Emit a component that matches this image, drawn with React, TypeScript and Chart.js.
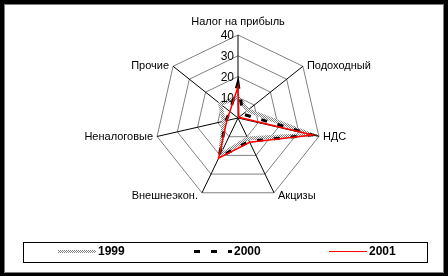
import React, { useEffect, useRef } from "react";
import { Chart, registerables } from "chart.js";

Chart.register(...registerables);

const categories = ["Налог на прибыль", "Подоходный", "НДС", "Акцизы", "Внешнеэкон.", "Неналоговые", "Прочие"];
const seriesNames = ["1999", "2000", "2001"];
const values1999 = [10, 6, 36, 11, 20, 7, 11];
const values2000 = [17, 3, 36.5, 12.5, 21, 6, 5];
const values2001 = [15, 0.5, 37, 13, 21.5, 5.5, 5];
const tickValues = [10, 20, 30, 40];

const FONT = "'Liberation Sans', Arial, sans-serif";

export default function App() {
  const ref = useRef<HTMLCanvasElement | null>(null);

  useEffect(() => {
    const canvas = ref.current!;
    const ctx0 = canvas.getContext("2d")!;
    const pc = document.createElement("canvas");
    pc.width = 2;
    pc.height = 2;
    const pg = pc.getContext("2d")!;
    pg.fillStyle = "#ffffff";
    pg.fillRect(0, 0, 2, 2);
    pg.fillStyle = "#808080";
    pg.fillRect(0, 0, 1, 1);
    pg.fillRect(1, 1, 1, 1);
    const hatch = ctx0.createPattern(pc, "repeat")!;

    const styles = [
      { color: hatch as any, width: 4, dash: [] as number[] },
      { color: "#000000", width: 3, dash: [6, 11] },
      { color: "#ff0000", width: 1.5, dash: [] as number[] },
    ];
    const seriesValues = [values1999, values2000, values2001];

    const overlay = {
      id: "overlay",
      afterDraw(chart: any) {
        const ctx = chart.ctx as CanvasRenderingContext2D;
        const r = chart.scales.r;
        ctx.save();
        // tick labels
        ctx.fillStyle = "#000";
        ctx.font = `12px ${FONT}`;
        ctx.textAlign = "right";
        ctx.textBaseline = "middle";
        tickValues.forEach((v) => {
          const d = r.getDistanceFromCenterForValue(v);
          ctx.fillText(String(v), r.xCenter - 4, r.yCenter - d + 1);
        });
        // point labels
        ctx.font = `11px ${FONT}`;
        categories.forEach((lab, i) => {
          const p = r.getPointPosition(i, r.drawingArea);
          const ang = r.getIndexAngle(i);
          const s = Math.sin(ang);
          const c = Math.cos(ang);
          if (Math.abs(s) < 0.01) {
            ctx.textAlign = "center";
            ctx.textBaseline = "middle";
            ctx.fillText(lab, p.x, p.y - 13);
          } else {
            ctx.textAlign = s > 0 ? "left" : "right";
            ctx.textBaseline = "middle";
            const dy = c < -0.5 ? 3 : 0;
            ctx.fillText(lab, p.x + (s > 0 ? 4 : -4), p.y + dy);
          }
        });
        // legend
        const bx = 23.5, by = 242.5, bw = 404, bh = 20;
        ctx.strokeStyle = "#000";
        ctx.lineWidth = 1;
        ctx.setLineDash([]);
        ctx.strokeRect(bx, by, bw, bh);
        const ly = 251.5;
        seriesNames.forEach((name, i) => {
          const st = styles[i];
          const x0 = Math.round(bx + 34.5 + i * 135.5);
          ctx.save();
          ctx.strokeStyle = st.color;
          ctx.lineWidth = st.width === 4 ? 3 : st.width === 1.5 ? 1 : st.width;
          ctx.setLineDash(st.dash);
          ctx.lineCap = "butt";
          ctx.beginPath();
          ctx.moveTo(x0, ly);
          ctx.lineTo(x0 + 38, ly);
          ctx.stroke();
          ctx.restore();
          ctx.fillStyle = "#000";
          ctx.font = `bold 12px ${FONT}`;
          ctx.textAlign = "left";
          ctx.textBaseline = "middle";
          ctx.fillText(name, x0 + 40, ly);
        });
        ctx.restore();
      },
    };

    const chart = new Chart(canvas, {
      type: "radar",
      data: {
        labels: categories,
        datasets: seriesNames.map((name, i) => ({
          label: name,
          data: seriesValues[i],
          borderColor: styles[i].color,
          borderWidth: styles[i].width,
          borderDash: styles[i].dash,
          backgroundColor: "transparent",
          fill: false,
          pointRadius: 0,
          tension: 0,
          order: 3 - i,
        })),
      },
      options: {
        responsive: false,
        animation: false,
        layout: { padding: { left: 155, right: 127, top: 35, bottom: 75 } },
        plugins: { legend: { display: false }, tooltip: { enabled: false } },
        scales: {
          r: {
            min: 0,
            max: 40,
            ticks: { stepSize: 10, display: false },
            pointLabels: { display: false },
            grid: { color: "#808080", lineWidth: 1 },
            angleLines: { color: "#000000", lineWidth: 1 },
          },
        },
      },
      plugins: [overlay],
    } as any);
    return () => chart.destroy();
  }, []);

  return (
    <div style={{ position: "fixed", left: 0, top: 0, width: 448, height: 276, background: "#000", overflow: "hidden" }}>
      <div
        style={{
          position: "absolute",
          left: 4,
          top: 4,
          width: 438,
          height: 267,
          border: "1px solid #808080",
          background: "#fff",
        }}
      />
      <canvas
        ref={ref}
        width={448}
        height={276}
        style={{ position: "absolute", left: 0, top: 0, width: 448, height: 276 }}
      />
    </div>
  );
}
